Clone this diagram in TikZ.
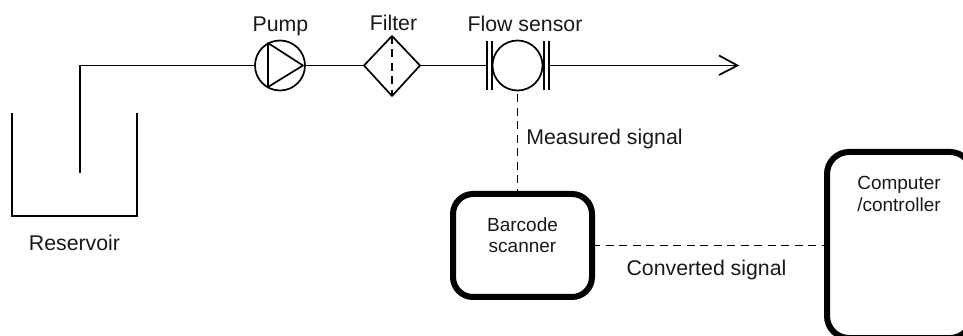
\documentclass[tikz,border=0pt]{standalone}
\usepackage{fontspec}
\setmainfont{Liberation Sans}
\begin{document}
\begin{tikzpicture}[x=1pt,y=-1pt,
  pipe/.style={draw=black,line width=1.7pt},
  signal/.style={draw=black,line width=1.7pt,dash pattern=on 8pt off 5.5pt},
  unit/.style={draw=black,line width=6pt,rounded corners=20pt},
  biglabel/.style={inner sep=0pt,anchor=base,font=\fontsize{21.3pt}{24pt}\selectfont,text=black!90},
  smalllabel/.style={inner sep=0pt,align=center,font=\fontsize{19pt}{21.5pt}\selectfont,text=black!90}]
\useasboundingbox (0,0) rectangle (963,336);
% reservoir
\coordinate (tl) at (12,113); \coordinate (bl) at (12,216);
\coordinate (br) at (137,216); \coordinate (tr) at (137,113);
\draw[pipe] (tl) -- (bl) -- (br) -- (tr);
\node[biglabel] (res) at (74.5,251) {Reservoir};
% pump
\node[circle,draw=black,line width=1.7pt,minimum size=50pt,inner sep=0pt] (pump) at (280,65.5) {};
\coordinate (p1) at (268,43); \coordinate (p2) at (303,65.5); \coordinate (p3) at (268,87);
\draw[pipe,line join=round] (p1) -- (p2) -- (p3) -- cycle;
\node[biglabel] (pumpl) at (280.5,32) {Pump};
\coordinate (inlet) at (80,173);
\draw[pipe] (inlet) -- (80,65.5) -- (pump.west);
% filter
\coordinate (fl) at (364,65.5); \coordinate (ft) at (392,36);
\coordinate (fr) at (420,65.5); \coordinate (fb) at (392,96);
\draw[pipe,line join=round] (fl) -- (ft) -- (fr) -- (fb) -- cycle;
\draw[signal] (ft) -- (fb);
\node[biglabel] (filterl) at (393.5,31) {Filter};
% flow sensor
\node[circle,draw=black,line width=1.7pt,minimum size=50pt,inner sep=0pt] (flow) at (517.5,65.5) {};
\coordinate (a1) at (487,41); \coordinate (a2) at (487,90);
\coordinate (b1) at (492,41); \coordinate (b2) at (492,90);
\coordinate (c1) at (544,41); \coordinate (c2) at (544,90);
\coordinate (d1) at (549,41); \coordinate (d2) at (549,90);
\draw[pipe] (a1) -- (a2) (b1) -- (b2) (c1) -- (c2) (d1) -- (d2);
\node[biglabel] (flowl) at (525,31.5) {Flow sensor};
\draw[pipe] (pump.east) -- (fl);
\draw[pipe] (fr) -- (a1 |- fr);
\coordinate (tip) at (737.5,65.5);
\coordinate (barbu) at (719,55.5); \coordinate (barbd) at (719,75);
\draw[pipe] (d1 |- tip) -- (tip);
\draw[pipe,line join=miter] (barbu) -- (tip) -- (barbd);
% controllers
\draw[unit] (453,194) rectangle (592,297);
\node[minimum width=139pt,minimum height=103pt,inner sep=0pt] (scan) at (522.5,245.5) {};
\node[smalllabel] (scanl) at (522.5,235) {Barcode\\scanner};
\draw[unit,rounded corners=22pt] (827,152) rectangle (972,338);
\node[minimum width=145pt,minimum height=186pt,inner sep=0pt] (comp) at (899.5,245) {};
\node[smalllabel] (compl) at (899,194) {Computer\\/controller};
% signals
\draw[signal] ([yshift=-3pt]flow.south) -- (flow.south |- scan.north);
\draw[signal] (scan.east |- 0,245.5) -- (comp.west |- 0,245.5);
\node[biglabel] (meas) at (604.5,145) {Measured signal};
\node[biglabel] (conv) at (706.5,276) {Converted signal};
\end{tikzpicture}
\end{document}
